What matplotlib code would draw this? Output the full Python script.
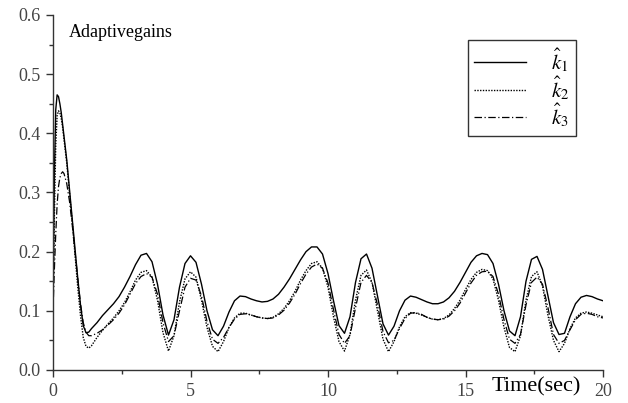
import matplotlib
matplotlib.use("Agg")
import matplotlib.pyplot as plt
from matplotlib.ticker import MultipleLocator, FixedLocator

plt.rcParams['font.family'] = ['Liberation Serif', 'DejaVu Serif']
plt.rcParams['mathtext.fontset'] = 'stix'

time = [0, 0.05, 0.1, 0.15, 0.2, 0.25, 0.3, 0.35, 0.4, 0.5, 0.6, 0.7, 0.8, 0.9, 1.0, 1.1, 1.2, 1.3, 1.4,
        1.6, 1.8, 2.0, 2.2, 2.4, 2.6, 2.8, 3.0, 3.2, 3.4,
        3.6, 3.8, 4.0, 4.2, 4.4, 4.6, 4.8, 5.0, 5.2, 5.4,
        5.6, 5.8, 6.0, 6.2, 6.4, 6.6, 6.8, 7.0, 7.2, 7.4,
        7.6, 7.8, 8.0, 8.2, 8.4, 8.6, 8.8, 9.0, 9.2, 9.4,
        9.6, 9.8, 10.0, 10.2, 10.4, 10.6, 10.8, 11.0, 11.2, 11.4,
        11.6, 11.8, 12.0, 12.2, 12.4, 12.6, 12.8, 13.0, 13.2, 13.4,
        13.6, 13.8, 14.0, 14.2, 14.4, 14.6, 14.8, 15.0, 15.2, 15.4,
        15.6, 15.8, 16.0, 16.2, 16.4, 16.6, 16.8, 17.0, 17.2, 17.4,
        17.6, 17.8, 18.0, 18.2, 18.4, 18.6, 18.8, 19.0, 19.2, 19.4,
        19.6, 19.8, 20.0]

k1 = [0.10, 0.33, 0.44, 0.465, 0.462, 0.45, 0.435, 0.415, 0.395, 0.355, 0.305, 0.255, 0.205, 0.155, 0.11, 0.075, 0.063, 0.064, 0.07,
      0.08, 0.092, 0.102, 0.112, 0.124, 0.14, 0.158, 0.178, 0.194, 0.197,
      0.183, 0.145, 0.093, 0.059, 0.085, 0.14, 0.18, 0.193, 0.182, 0.145,
      0.1, 0.068, 0.058, 0.074, 0.098, 0.117, 0.125, 0.124, 0.12, 0.117,
      0.115, 0.116, 0.12, 0.128, 0.14, 0.154, 0.17, 0.186, 0.2, 0.208,
      0.208, 0.196, 0.163, 0.117, 0.075, 0.062, 0.09, 0.148, 0.188, 0.196,
      0.172, 0.125, 0.078, 0.059, 0.074, 0.1, 0.118, 0.125, 0.123, 0.119,
      0.115, 0.112, 0.112, 0.115, 0.122, 0.133, 0.148, 0.165, 0.182, 0.193,
      0.197, 0.195, 0.18, 0.145, 0.1, 0.066, 0.058, 0.09, 0.15, 0.187,
      0.192, 0.17, 0.125, 0.08, 0.06, 0.062, 0.09, 0.112, 0.123, 0.126,
      0.124, 0.12, 0.117]

k2 = [0.10, 0.26, 0.38, 0.43, 0.438, 0.435, 0.425, 0.41, 0.39, 0.35, 0.30, 0.25, 0.195, 0.14, 0.092, 0.055, 0.04, 0.037, 0.041,
      0.055, 0.067, 0.078, 0.088, 0.1, 0.114, 0.132, 0.152, 0.165, 0.168,
      0.157, 0.118, 0.063, 0.032, 0.058, 0.115, 0.154, 0.166, 0.157, 0.118,
      0.072, 0.04, 0.031, 0.048, 0.072, 0.088, 0.096, 0.096, 0.093, 0.09,
      0.088, 0.087, 0.089, 0.095, 0.104, 0.117, 0.133, 0.152, 0.168, 0.18,
      0.183, 0.172, 0.14, 0.09, 0.048, 0.032, 0.06, 0.118, 0.16, 0.169,
      0.148, 0.1, 0.052, 0.031, 0.048, 0.073, 0.09, 0.097, 0.096, 0.093,
      0.089, 0.086, 0.085, 0.087, 0.093, 0.104, 0.118, 0.136, 0.153, 0.165,
      0.17, 0.168, 0.154, 0.118, 0.072, 0.038, 0.031, 0.058, 0.118, 0.158,
      0.166, 0.142, 0.092, 0.05, 0.031, 0.045, 0.07, 0.088, 0.096, 0.098,
      0.096, 0.093, 0.09]

k3 = [0.10, 0.17, 0.23, 0.28, 0.31, 0.325, 0.332, 0.335, 0.332, 0.315, 0.285, 0.245, 0.20, 0.155, 0.112, 0.08, 0.064, 0.058, 0.058,
      0.062, 0.068, 0.076, 0.085, 0.096, 0.11, 0.128, 0.146, 0.158, 0.163,
      0.157, 0.128, 0.08, 0.048, 0.058, 0.1, 0.14, 0.155, 0.152, 0.125,
      0.082, 0.052, 0.045, 0.055, 0.072, 0.086, 0.094, 0.095, 0.093, 0.09,
      0.088, 0.087, 0.088, 0.093, 0.101, 0.113, 0.128, 0.146, 0.162, 0.174,
      0.179, 0.172, 0.147, 0.102, 0.06, 0.045, 0.058, 0.105, 0.148, 0.16,
      0.148, 0.11, 0.065, 0.046, 0.05, 0.07, 0.087, 0.096, 0.097, 0.094,
      0.089, 0.086, 0.085, 0.086, 0.091, 0.1, 0.113, 0.13, 0.147, 0.16,
      0.166, 0.167, 0.158, 0.128, 0.085, 0.052, 0.045, 0.06, 0.11, 0.148,
      0.157, 0.145, 0.105, 0.06, 0.045, 0.05, 0.068, 0.085, 0.094, 0.096,
      0.094, 0.09, 0.088]

labels = [r'$\hat{k}_{\mathit{1}}$', r'$\hat{k}_{\mathit{2}}$', r'$\hat{k}_{\mathit{3}}$']
x_ticks = [0, 5, 10, 15, 20]
y_ticks = [0.0, 0.1, 0.2, 0.3, 0.4, 0.5, 0.6]
y_ticklabels = ['0.0', '0.1', '0.2', '0.3', '0.4', '0.5', '0.6']

fig = plt.figure(figsize=(6.28, 4.03), dpi=100)
ax = fig.add_axes([53/628, 1-370/403, 550/628, 355/403])

ax.plot(time, k1, color='black', lw=1.0, linestyle='-', label=labels[0])
ax.plot(time, k2, color='black', lw=1.0, linestyle=(0, (1, 1)), label=labels[1])
ax.plot(time, k3, color='black', lw=0.9, linestyle=(0, (6, 2, 1, 2)), label=labels[2])

ax.set_xlim(0, 20)
ax.set_ylim(0, 0.6)
for s in ['top', 'right']:
    ax.spines[s].set_visible(False)
for s in ['left', 'bottom']:
    ax.spines[s].set_linewidth(1.0)
    ax.spines[s].set_color('#333333')

ax.xaxis.set_major_locator(FixedLocator(x_ticks))
ax.xaxis.set_minor_locator(MultipleLocator(2.5))
ax.yaxis.set_major_locator(FixedLocator(y_ticks))
ax.set_yticklabels(y_ticklabels)
ax.yaxis.set_minor_locator(MultipleLocator(0.05))
ax.tick_params(which='major', direction='out', length=5, width=1, labelsize=13, colors='#333333', pad=4)
ax.tick_params(which='minor', direction='out', length=3, width=1, colors='#333333')
for lab in ax.get_xticklabels() + ax.get_yticklabels():
    lab.set_color('#444444')

ax.text(0.028, 0.975, 'Adaptivegains', transform=ax.transAxes, fontsize=13, va='top', ha='left')
ax.text(0.797, -0.02, 'Time(sec)', transform=ax.transAxes, fontsize=16, va='top', ha='left')

leg = ax.legend(loc='upper left', bbox_to_anchor=((468-53)/550, (370-40)/355), fontsize=15,
                handlelength=2.5, frameon=True, fancybox=False, edgecolor='black',
                borderpad=0.3, labelspacing=0.0, handletextpad=1.2, borderaxespad=0)
leg.get_frame().set_linewidth(1.0)

fig.savefig('out.png', dpi=100)
